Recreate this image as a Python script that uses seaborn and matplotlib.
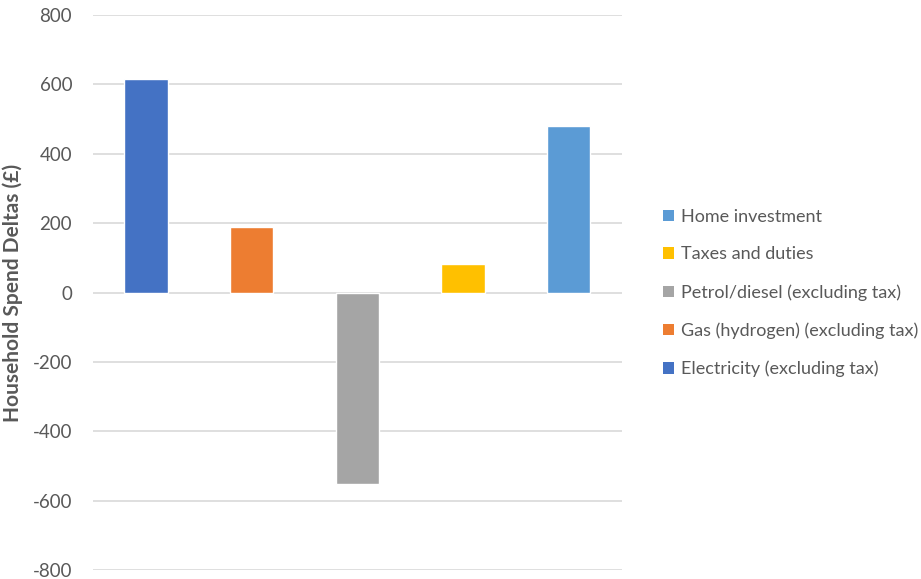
import matplotlib
matplotlib.use("Agg")
import matplotlib.pyplot as plt
import seaborn as sns
import pandas as pd
from matplotlib.patches import Patch

categories = ["Electricity (excluding tax)", "Gas (hydrogen) (excluding tax)",
              "Petrol/diesel (excluding tax)", "Taxes and duties", "Home investment"]
values = [615, 190, -552, 83, 480]
colors = ["#4472C4", "#ED7D31", "#A5A5A5", "#FFC000", "#5B9BD5"]
yticks = [-800, -600, -400, -200, 0, 200, 400, 600, 800]

sns.set_theme(style="white")
plt.rcParams['font.family'] = ['Lato', 'DejaVu Sans']

df = pd.DataFrame({"category": categories, "value": values})

fig = plt.figure(figsize=(9.21, 5.79), dpi=100)
ax = fig.add_axes([0.101, 0.0155, 0.574, 0.9585])
sns.barplot(data=df, x="category", y="value", hue="category", palette=colors,
            dodge=False, width=0.41, legend=False, ax=ax, saturation=1)
ax.set_ylim(-800, 800)
ax.set_xlim(-0.5, 4.5)
ax.set_yticks(yticks)
ax.set_yticklabels([str(t) for t in yticks], color="#595959", fontsize=13.5)
ax.set_xticks([])
ax.set_xlabel("")
ax.set_ylabel("Household Spend Deltas (£)", color="#595959", fontsize=15,
              fontweight="bold")
ax.yaxis.set_label_coords(-0.133, 0.5)
ax.tick_params(axis="y", length=0, pad=15)
ax.grid(axis="y", color="#D9D9D9", linewidth=1.2)
ax.set_axisbelow(True)
for s in ax.spines.values():
    s.set_visible(False)

handles = [Patch(facecolor=c, edgecolor="none") for c in colors][::-1]
labels = categories[::-1]
leg = fig.legend(handles, labels, loc="center left", bbox_to_anchor=(0.712, 0.494),
                 frameon=False, fontsize=13, handlelength=0.6, handleheight=0.6,
                 handletextpad=0.4, labelspacing=1.2, borderaxespad=0)
for t in leg.get_texts():
    t.set_color("#595959")

fig.savefig("out.png", dpi=100)
